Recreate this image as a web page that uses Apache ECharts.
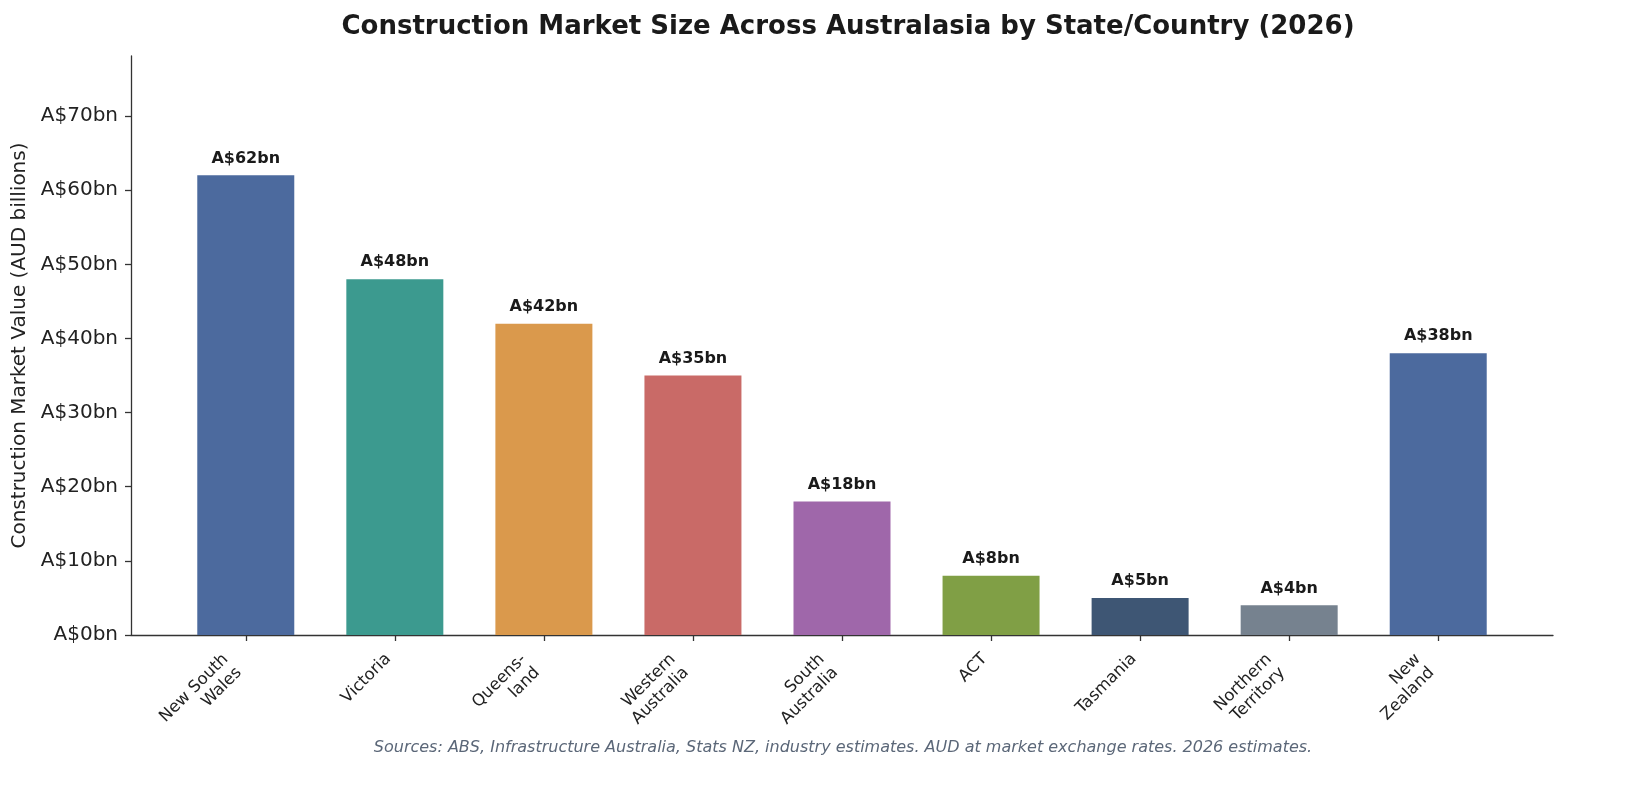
<!DOCTYPE HTML>
<html>
<meta charset="utf-8"/>
<body style="margin:0;background:#fff;">
<div id="main" style="width: 1635px;height:803px;"></div>
<script src="https://cdn.jsdelivr.net/npm/echarts@6/dist/echarts.min.js"></script>
<script>
// chart data
var regions = ['New South\nWales', 'Victoria', 'Queens-\nland', 'Western\nAustralia', 'South\nAustralia', 'ACT', 'Tasmania', 'Northern\nTerritory', 'New\nZealand'];
var marketValue = [62, 48, 42, 35, 18, 8, 5, 4, 38];
var barColors = ['#4c6a9e', '#3c9a8f', '#da994c', '#c96a67', '#9f67aa', '#809f45', '#3e5674', '#76828f', '#4c6a9e'];
var yTicks = [0, 10, 20, 30, 40, 50, 60, 70];

var font = 'DejaVu Sans';
var positions = regions.map(function(r, i){ return i; });

var barData = [];
for (var i = 0; i < marketValue.length; i++) {
    barData.push({ value: [i, marketValue[i]], itemStyle: { color: barColors[i] } });
}

// right padding pulls the rotated block so its top-right corner sits on the tick
var tickText = { fontFamily: font, fontSize: 16.5, color: '#222', lineHeight: 19 };
var oneLine = Object.assign({ padding: [0, 9, 0, 0] }, tickText);
var twoLine = Object.assign({ padding: [0, 19, 0, 0] }, tickText);

var myChart = echarts.init(document.getElementById('main'));
var option = {
    animation: false,
    title: {
        text: 'Construction Market Size Across Australasia by State/Country (2026)',
        left: 843, textAlign: 'center', top: 9,
        textStyle: { fontFamily: font, fontSize: 26, fontWeight: 'bold', color: '#1a1a1a' }
    },
    graphic: [{
        type: 'text', x: 843, y: 740,
        style: {
            text: 'Sources: ABS, Infrastructure Australia, Stats NZ, industry estimates. AUD at market exchange rates. 2026 estimates.',
            font: 'italic 16px "DejaVu Sans"', fill: '#5b6778', textAlign: 'center'
        }
    }],
    grid: { left: 131, right: 82, top: 56, bottom: 168 },
    xAxis: {
        type: 'value', min: -0.77, max: 8.77,
        splitLine: { show: false },
        axisLine: { onZero: false, lineStyle: { color: '#333', width: 1.3 } },
        axisTick: { show: true, length: 6, customValues: positions, lineStyle: { color: '#333', width: 1.3 } },
        axisLabel: {
            customValues: positions, rotate: 45, margin: 15,
            fontFamily: font, fontSize: 16.5, color: '#222', lineHeight: 19, align: 'right',
            formatter: function(v){
                var s = regions[Math.round(v)];
                return s.indexOf('\n') >= 0 ? '{b|' + s + '}' : '{a|' + s + '}';
            },
            rich: { a: oneLine, b: twoLine }
        }
    },
    yAxis: {
        type: 'value', min: 0, max: 78.1,
        name: 'Construction Market Value (AUD billions)',
        nameLocation: 'middle', nameGap: 97, nameRotate: 90,
        nameTextStyle: { fontFamily: font, fontSize: 20, color: '#222' },
        splitLine: { show: false },
        axisLine: { show: true, onZero: false, lineStyle: { color: '#333', width: 1.3 } },
        axisTick: { show: true, length: 6, customValues: yTicks, lineStyle: { color: '#333', width: 1.3 } },
        axisLabel: {
            customValues: yTicks, margin: 13,
            fontFamily: font, fontSize: 20, color: '#222',
            formatter: function(v){ return 'A$' + v + 'bn'; }
        }
    },
    series: [{
        type: 'bar',
        barWidth: 97,
        data: barData,
        label: {
            show: true, position: 'top', distance: 9,
            fontFamily: font, fontSize: 16, fontWeight: 'bold', color: '#1a1a1a',
            formatter: function(p){ return 'A$' + p.value[1] + 'bn'; }
        }
    }]
};
myChart.setOption(option);
</script>
</body>
</html>
